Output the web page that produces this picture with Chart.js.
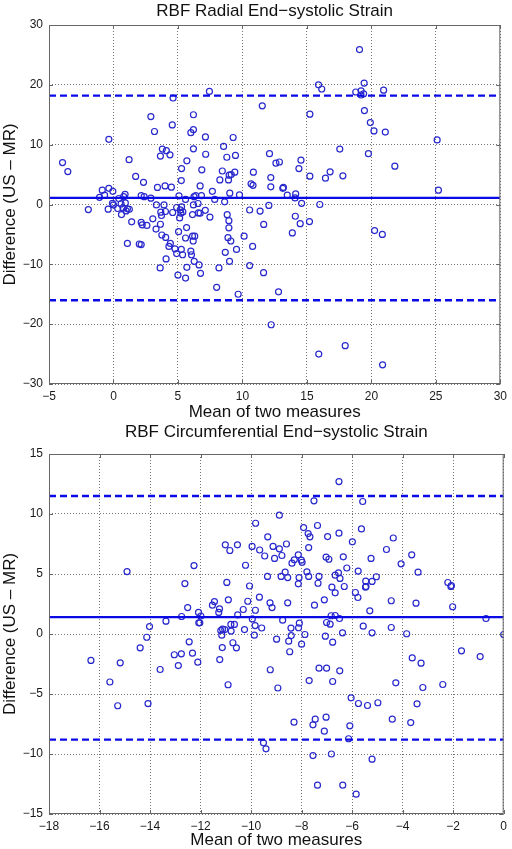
<!DOCTYPE html>
<html>
<head>
<meta charset="utf-8">
<script src="https://cdn.jsdelivr.net/npm/chart.js@4/dist/chart.umd.min.js"></script>
<style>
  html, body { margin: 0; padding: 0; background: #fff; }
  #wrap { position: relative; width: 512px; height: 849px; }
  canvas { position: absolute; left: 0; }
  #radialChart { top: 0; }
  #circChart { top: 419px; }
</style>
</head>
<body>
<div id="wrap">
  <canvas id="radialChart" width="512" height="424"></canvas>
  <canvas id="circChart" width="512" height="430"></canvas>
</div>
<script>
// Radial strain: mean of two measures vs difference (US - MR)
const radialMean = [
  7.44, 4.62, 11.54, 2.9, 6.2, 3.18, 4.56, 6.0, 6.2, 7.13, 9.28, -0.36, 8.54, 3.79, 4.1, 3.64, 4.38, 6.2, 7.15, 8.79,
  9.46, 12.1, 12.6, -3.95, -3.54, 1.21, 5.69, 5.28, 6.85, 8.44, 8.97, 9.13, 8.92, 9.41, 8.25, 10.85, 12.2, 10.67, 10.82, 12.2,
  1.72, 2.33, 5.26, 6.72, 3.41, 4.0, 4.49, -0.87, -0.36, -0.05, -0.69, -1.08, 7.67, 9.02, 9.77, 13.13, 0.41, 0.79, 0.9, 2.15,
  2.38, 2.9, 5.08, 5.59, 6.25, 6.38, 6.82, 7.85, 8.62, 13.48, -1.95, -0.41, 0.0, -0.08, 0.33, 0.59, 0.74, 0.92, 1.23, 0.98,
  0.62, 1.08, 1.41, 2.15, 2.23, 2.59, 3.05, 3.33, 3.67, 3.92, 3.72, 4.03, 3.64, 3.75, 3.3, 4.05, 4.59, 4.9, 5.18, 5.38,
  5.23, 5.28, 5.05, 5.67, 5.59, 6.13, 6.3, 6.2, 6.56, 6.59, 6.13, 6.72, 7.12, 7.48, 8.82, 8.95, 8.95, 8.88, 10.13, 10.56,
  11.37, 11.65, 12.05, 1.08, 2.0, 2.15, 5.13, 4.41, 4.3, 4.08, 3.62, 4.77, 4.9, 5.26, 5.36, 5.0, 5.69, 5.59, 6.18, 6.0,
  6.05, 6.26, 6.64, 6.75, 8.0, 8.18, 8.67, 9.1, 9.0, 9.54, 9.67, 10.79, 10.56, 11.64, 12.23, 12.8, 19.08, 15.9, 16.15, 19.44,
  18.79, 19.2, 19.2, 19.4, 20.95, 19.46, 15.23, 19.92, 20.2, 21.08, 25.1, 17.55, 19.77, 21.82, 12.87, 14.54, 14.38, 13.18, 14.13, 14.08,
  15.23, 16.44, 16.8, 17.79, 25.2, 14.59, 16.0, 14.1, 14.48, 15.2, 13.87, 20.25, 20.85, 15.92, 17.97, 20.87
];
const radialDiff = [
  18.9, 17.8, 16.5, 14.7, 15.0, 12.2, 13.3, 12.0, 12.5, 11.3, 11.2, 10.9, 9.7, 9.26, 9.0, 8.1, 8.3, 9.3, 8.4, 7.9,
  8.2, 8.5, 6.9, 7.0, 5.5, 7.5, 7.3, 6.0, 5.8, 5.6, 4.9, 5.0, 4.1, 5.4, 4.1, 5.4, 4.5, 3.45, 3.2, 2.95,
  4.7, 3.7, 4.0, 3.1, 2.85, 3.1, 2.9, 2.4, 2.7, 2.2, 1.56, 1.2, 2.2, 1.9, 1.6, 2.7, 1.0, 1.3, 1.7, 1.5,
  1.3, 1.05, 1.45, 0.84, 1.3, 1.5, 1.5, 0.84, 0.44, 1.56, -0.84, -0.78, -0.07, 0.2, -0.67, 0.1, -0.57, 0.27, -0.79, -1.07,
  -1.68, -0.73, -2.9, -3.0, -3.4, -3.5, -2.4, -0.07, -1.29, -0.07, -1.84, -1.17, -3.3, -5.1, -4.1, -5.5, -1.34, -0.5, -0.9, -1.24,
  -1.46, -0.4, -4.55, -3.85, -5.6, -5.3, -5.3, -0.07, 0.17, -1.4, -1.68, -1.46, -0.98, -2.1, -1.7, -2.7, -3.9, -5.55, -5.3, -0.92,
  -1.1, -3.33, -0.15, -6.5, -6.6, -6.7, -2.24, -6.5, -7.0, -9.1, -10.6, -7.4, -8.2, -7.5, -8.4, -11.8, -10.5, -12.3, -6.1, -7.8,
  -8.4, -9.5, -10.1, -11.5, -13.85, -10.6, -8.0, -6.1, -9.5, -7.5, -15.0, -7.0, -10.2, -11.4, -20.1, -14.6, 25.9, 20.0, 19.3, 20.3,
  18.8, 19.0, 18.3, 18.5, 19.1, 15.7, 15.1, 13.7, 12.3, 12.1, 10.8, 9.26, 8.5, 6.4, 7.1, 7.4, 6.0, 2.85, 1.77, 1.1,
  4.74, 4.4, 5.46, 4.8, 2.4, 0.2, 0.0, -1.96, -3.2, -2.85, -4.75, -4.36, -5.0, -25.0, -23.6, -26.8
];
const radialBias = 1.1;
const radialLimits = [18.2, -16.0];
const radialXRange = [-5, 30];
const radialYRange = [-30, 30];

// Circumferential strain
const circMean = [
  -14.91, -12.26, -12.62, -12.51, -12.75, -13.37, -14.02, -12.08, -11.99, -12.07, -12.03, -11.53, -11.45, -11.25, -11.28, -10.9, -10.96, -11.02, -10.84, -10.54,
  -9.82, -10.22, -10.06, -9.67, -10.13, -10.31, -9.83, -10.53, -9.95, -9.84, -9.58, -10.8, -10.66, -11.13, -11.04, -10.26, -9.96, -9.66, -9.46, -9.34,
  -9.13, -9.07, -8.88, -9.35, -9.25, -9.17, -6.52, -7.51, -5.58, -7.92, -7.74, -7.67, -7.37, -6.97, -6.52, -5.63, -5.99, -4.37, -4.64, -3.64,
  -4.06, -3.39, -8.88, -8.78, -8.6, -8.38, -8.29, -8.13, -8.01, -7.98, -7.72, -7.03, -6.92, -6.35, -6.21, -5.25, -8.81, -8.65, -8.55, -8.1,
  -7.79, -7.72, -7.31, -7.35, -8.13, -6.67, -6.54, -6.48, -6.8, -6.67, -6.31, -5.76, -5.04, -5.21, -5.46, -5.45, -5.47, -5.87, -5.77, -5.3,
  -4.45, -3.47, -2.21, -2.09, -2.07, -2.02, -0.7, -8.55, -7.49, -7.1, -6.83, -6.67, -6.5, -7.01, -6.87, -8.75, -8.09, -8.42, -5.56, -4.45,
  -14.13, -14.39, -16.34, -15.18, -15.59, -15.28, -14.08, -13.6, -13.04, -12.76, -12.88, -12.45, -12.32, -12.11, -11.2, -11.16, -11.14, -11.24, -10.91, -10.79,
  -10.72, -10.58, -9.87, -9.24, -8.99, -8.94, -9.51, -9.41, -8.12, -8.41, -8.51, -7.87, -8.0, -8.47, -7.06, -6.77, -6.38, -5.21, -3.84, -7.31,
  -7.01, -6.49, -6.77, -7.7, -3.62, -3.27, -4.27, -3.2, -2.41, -1.67, -0.93, 0.0, -6.04, -5.75, -5.39, -4.98, -3.43, -4.41, -3.68, -8.3,
  -7.46, -7.55, -7.03, -7.1, -6.09, -6.14, -7.55, -6.82, -5.21, -7.37, -6.37, -5.84
];
const circDiff = [
  5.2, 5.7, 4.2, 2.2, 1.46, 1.07, 0.62, 1.8, 1.5, 0.93, 0.93, 2.4, 2.7, 2.1, 1.8, 2.85, 4.3, 7.43, 6.96, 7.43,
  9.23, 5.73, 4.0, 3.07, 2.73, 2.04, 1.98, 1.6, 1.26, 0.7, 0.5, 0.8, 0.8, 0.4, 0.37, 0.37, 7.3, 7.0, 6.5, 8.1,
  7.3, 6.3, 9.9, 4.8, 2.6, 2.2, 12.7, 11.1, 11.04, 8.87, 8.37, 8.1, 9.04, 8.12, 8.4, 8.76, 7.68, 8.0, 7.04, 6.6,
  5.85, 5.15, 7.1, 6.54, 7.5, 5.9, 6.18, 6.6, 6.15, 5.98, 7.2, 6.4, 6.23, 6.43, 5.5, 6.3, 4.8, 5.15, 4.7, 4.7,
  5.18, 4.8, 4.8, 4.23, 4.18, 4.9, 5.1, 4.63, 3.9, 3.43, 3.96, 5.24, 4.77, 4.38, 4.4, 3.96, 3.9, 3.46, 3.04, 1.93,
  2.77, 2.57, 4.29, 3.96, 4.04, 2.27, 1.29, 2.6, 2.4, 2.85, 1.52, 1.54, 1.29, 0.96, 0.82, 1.15, 0.9, 0.49, 0.65, 0.54,
  -0.27, -1.15, -2.2, -2.4, -4.0, -5.98, -5.8, -2.96, -1.73, -1.65, -2.63, -0.65, -1.6, -2.35, 0.29, -0.1, -1.13, -2.13, -4.23, 0.24,
  -0.73, -1.15, -0.1, -2.98, -0.43, -4.5, -9.07, -9.57, 0.52, -0.13, -0.6, -0.04, -0.85, -1.48, -0.18, -0.68, 0.1, 0.1, 0.02, -2.85,
  -2.85, -3.07, -3.96, -3.88, -1.99, -2.43, -4.07, -4.46, -4.21, -1.4, -1.88, -0.04, -5.32, -5.79, -5.96, -5.73, -5.82, -7.1, -7.38, -7.35,
  -7.1, -7.57, -6.93, -8.1, -7.65, -8.73, -10.13, -10.0, -10.43, -12.6, -12.6, -13.35
];
const circBias = 1.4;
const circLimits = [11.5, -8.8];
const circXRange = [-18, 0];
const circYRange = [-15, 15];

const FONT = 'Liberation Sans, Arial, Helvetica, sans-serif';
const LINE_BLUE = '#0a0ae6';
const POINT_BLUE = 'rgb(40,40,205)';

Chart.defaults.font.family = FONT;
Chart.defaults.color = '#1a1a1a';

const minus = v => String(v).replace('-', '\u2212');

// MATLAB-ish box with inward tick marks
const framePlugin = {
  id: 'frame',
  afterDraw(chart) {
    const { ctx, chartArea: a, scales: { x, y } } = chart;
    ctx.save();
    ctx.strokeStyle = '#666';
    ctx.lineWidth = 1;
    ctx.strokeRect(a.left + 0.5, a.top + 0.5, a.width - 1, a.height - 1);
    ctx.beginPath();
    x.ticks.forEach(t => {
      const px = Math.round(x.getPixelForValue(t.value)) + 0.5;
      ctx.moveTo(px, a.bottom); ctx.lineTo(px, a.bottom - 4);
      ctx.moveTo(px, a.top); ctx.lineTo(px, a.top + 4);
    });
    y.ticks.forEach(t => {
      const py = Math.round(y.getPixelForValue(t.value)) + 0.5;
      ctx.moveTo(a.left, py); ctx.lineTo(a.left + 4, py);
      ctx.moveTo(a.right, py); ctx.lineTo(a.right - 4, py);
    });
    ctx.stroke();
    ctx.restore();
  }
};

function hLine(value, range, dashed) {
  return {
    type: 'line',
    data: [{ x: range[0], y: value }, { x: range[1], y: value }],
    borderColor: LINE_BLUE,
    borderWidth: 2.3,
    borderDash: dashed ? [7, 4] : [],
    pointRadius: 0,
    fill: false,
    order: 0,
  };
}

function drawBlandAltman(id, cfg) {
  const points = cfg.mean.map((m, i) => ({ x: m, y: cfg.diff[i] }));
  new Chart(document.getElementById(id), {
    type: 'scatter',
    data: {
      datasets: [
        {
          data: points,
          pointStyle: 'circle',
          pointRadius: 3,
          borderWidth: 1.2,
          borderColor: POINT_BLUE,
          backgroundColor: 'rgba(0,0,0,0)',
          order: 1,
        },
        hLine(cfg.bias, cfg.xRange, false),
        hLine(cfg.limits[0], cfg.xRange, true),
        hLine(cfg.limits[1], cfg.xRange, true),
      ],
    },
    options: {
      responsive: false,
      animation: false,
      events: [],
      layout: { padding: { left: 0, right: cfg.padRight, top: 0, bottom: 0 } },
      plugins: {
        legend: { display: false },
        tooltip: { enabled: false },
        title: {
          display: true,
          fullSize: false,
          text: cfg.title,
          color: '#111',
          font: { size: 17, weight: 'normal', lineHeight: 1.0 },
          padding: { top: cfg.titleTop, bottom: cfg.titleBottom },
        },
      },
      scales: {
        x: {
          type: 'linear',
          min: cfg.xRange[0],
          max: cfg.xRange[1],
          ticks: { stepSize: cfg.xStep, padding: 5, font: { size: 12 }, color: '#1a1a1a', callback: minus },
          grid: { color: 'rgba(70,70,70,0.75)', lineWidth: 1, drawTicks: false },
          border: { display: false, dash: [1, 2] },
          title: {
            display: true,
            text: 'Mean of two measures',
            color: '#111',
            font: { size: 17, lineHeight: 1.0 },
            padding: { top: 0, bottom: cfg.xTitleBottom },
          },
          afterFit: s => { s.height = cfg.xHeight; },
        },
        y: {
          type: 'linear',
          min: cfg.yRange[0],
          max: cfg.yRange[1],
          ticks: { stepSize: cfg.yStep, padding: 6, font: { size: 12 }, color: '#1a1a1a', callback: minus },
          grid: { color: 'rgba(70,70,70,0.75)', lineWidth: 1, drawTicks: false },
          border: { display: false, dash: [1, 2] },
          title: {
            display: true,
            text: 'Difference (US \u2013 MR)',
            color: '#111',
            font: { size: 17 },
            padding: { top: 0, bottom: 0 },
          },
          afterFit: s => { s.width = 49; },
        },
      },
    },
    plugins: [framePlugin],
  });
}

drawBlandAltman('radialChart', {
  title: 'RBF Radial End\u2212systolic Strain',
  mean: radialMean, diff: radialDiff,
  bias: radialBias, limits: radialLimits,
  xRange: radialXRange, yRange: radialYRange, xStep: 5, yStep: 10,
  padRight: 10, titleTop: 3, titleBottom: 5, xHeight: 40, xTitleBottom: 3.5,
});

drawBlandAltman('circChart', {
  title: 'RBF Circumferential End\u2212systolic Strain',
  mean: circMean, diff: circDiff,
  bias: circBias, limits: circLimits,
  xRange: circXRange, yRange: circYRange, xStep: 2, yStep: 5,
  padRight: 7, titleTop: 5, titleBottom: 13, xHeight: 35, xTitleBottom: 0,
});
</script>
</body>
</html>
